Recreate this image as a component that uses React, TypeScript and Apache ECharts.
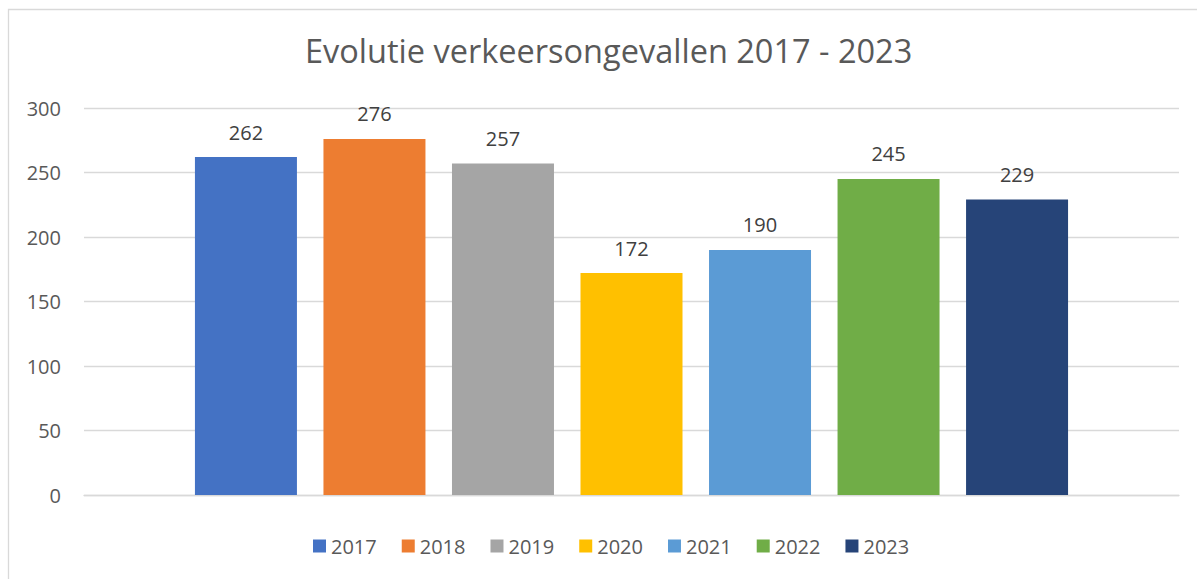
import React, { useEffect, useRef } from "react";
import * as echarts from "echarts";

const years = ["2017", "2018", "2019", "2020", "2021", "2022", "2023"];
const values = [262, 276, 257, 172, 190, 245, 229];
const colors = ["#4472C4", "#ED7D31", "#A5A5A5", "#FFC000", "#5B9BD5", "#70AD47", "#264478"];
const titleText = "Evolutie verkeersongevallen 2017 - 2023";
const FONT = "'Open Sans', sans-serif";

export default function App() {
  const ref = useRef<HTMLDivElement>(null);
  useEffect(() => {
    if (!ref.current) return;
    const chart = echarts.init(ref.current, undefined, { renderer: "svg" });
    chart.setOption({
      animation: false,
      backgroundColor: "#ffffff",
      textStyle: { fontFamily: FONT },
      title: {
        text: titleText,
        left: 300,
        top: 29,
        textStyle: { fontFamily: FONT, fontSize: 32.5, fontWeight: "normal", color: "#595959" },
      },
      graphic: [
        {
          type: "polyline",
          shape: { points: [[8.5, 600], [8.5, 9.5], [1300, 9.5]] },
          style: { stroke: "#d9d9d9", lineWidth: 1.3, fill: "none" },
          silent: true,
        },
      ],
      legend: {
        left: 308,
        top: 531,
        itemWidth: 13,
        itemHeight: 13,
        itemGap: 25,
        icon: "rect",
        textStyle: { fontFamily: FONT, fontSize: 20, color: "#595959" },
        data: years,
      },
      grid: { left: 84, right: 18, top: 108, bottom: 84 },
      xAxis: {
        type: "category",
        data: [""],
        axisLine: { show: true, lineStyle: { color: "#d9d9d9", width: 1.3 } },
        axisTick: { show: false },
        axisLabel: { show: false },
      },
      yAxis: {
        type: "value",
        min: 0,
        max: 300,
        interval: 50,
        axisLine: { show: false },
        axisTick: { show: false },
        axisLabel: { fontFamily: FONT, fontSize: 20, color: "#595959", margin: 23 },
        splitLine: { lineStyle: { color: "#d9d9d9", width: 1.3 } },
      },
      series: years.map((y, i) => ({
        name: y,
        type: "bar",
        data: [values[i]],
        barWidth: 102,
        barGap: "26%",
        itemStyle: { color: colors[i] },
        label: {
          show: true,
          position: "top",
          distance: 15,
          fontFamily: FONT,
          fontSize: 20,
          color: "#404040",
        },
      })),
    });
    return () => chart.dispose();
  }, []);
  return (
    <div
      ref={ref}
      style={{ position: "fixed", left: 0, top: 0, width: 1197, height: 579 }}
    />
  );
}
